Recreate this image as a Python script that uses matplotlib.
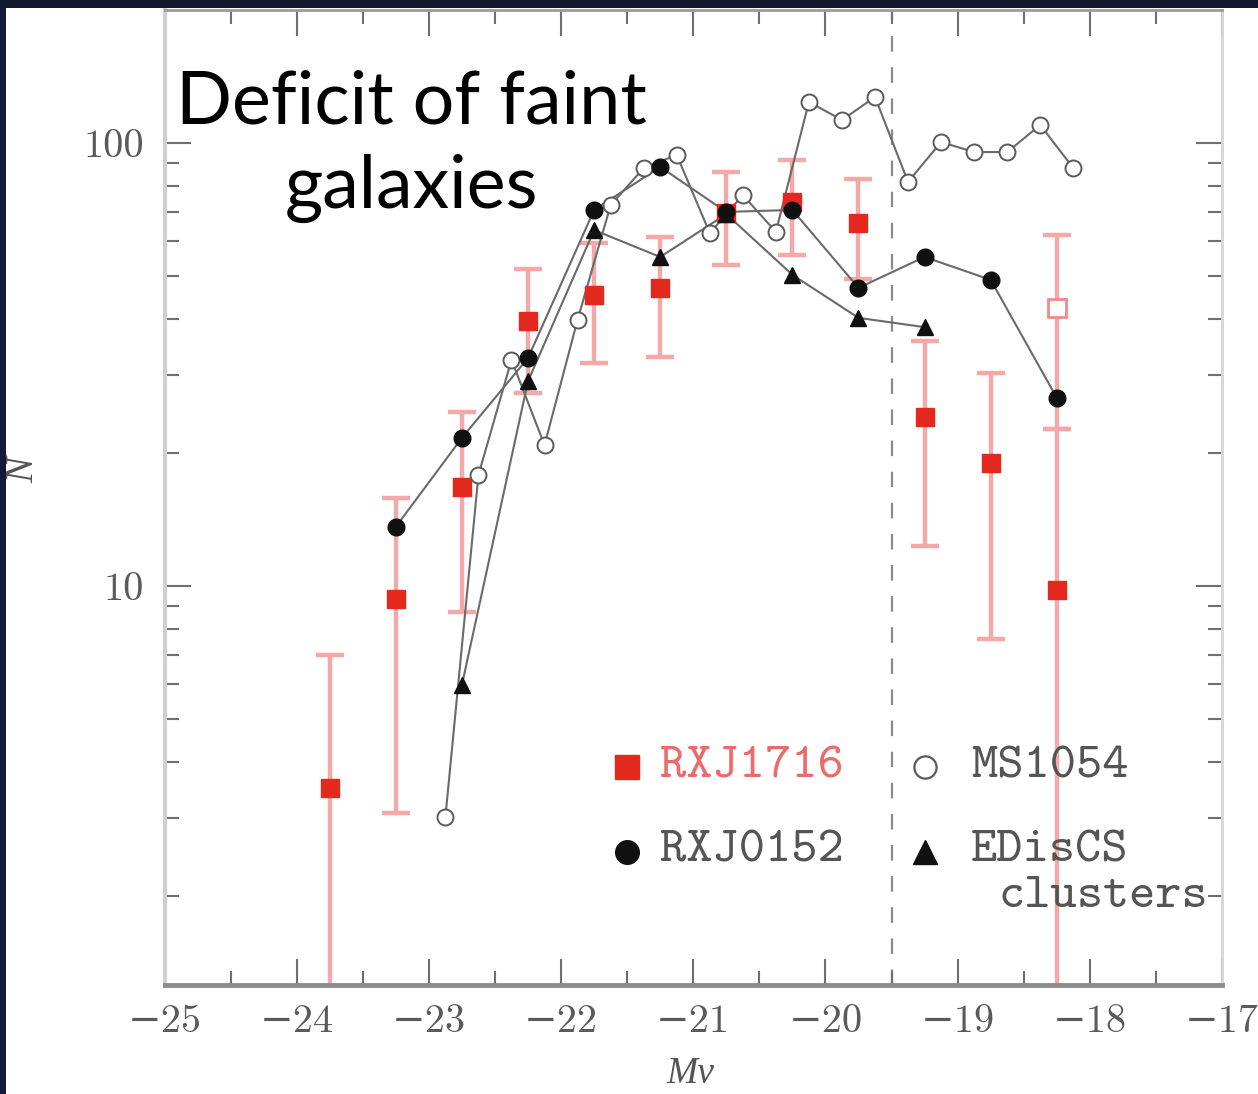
import numpy as np
import matplotlib
matplotlib.use("Agg")
import matplotlib.pyplot as plt
from matplotlib.patches import Rectangle
from matplotlib.ticker import FixedLocator, NullFormatter, LogLocator

# ---------------- data ----------------
# RXJ1716 (red squares with error bars)
rxj1716_mv = [-23.75, -23.25, -22.75, -22.25, -21.75, -21.25, -20.75, -20.25, -19.75, -19.25, -18.75, -18.25]
rxj1716_n = [3.50, 9.35, 16.7, 39.6, 45.4, 47.1, 69.5, 73.6, 66.0, 24.1, 19.0, 9.8]
rxj1716_hi = [6.98, 15.8, 24.7, 51.9, 59.5, 61.3, 86.0, 91.5, 82.9, 35.7, 30.3, 22.6]
rxj1716_lo = [0.5, 3.07, 8.74, 27.3, 31.9, 32.9, 53.0, 55.9, 49.3, 12.3, 7.59, 0.5]
# RXJ1716 open square (last bin, alternative estimate)
rxj1716_open_mv = [-18.25]
rxj1716_open_n = [42.4]
rxj1716_open_hi = [62.0]
rxj1716_open_lo = [22.6]

# RXJ0152 (black filled circles)
rxj0152_mv = [-23.25, -22.75, -22.25, -21.75, -21.25, -20.75, -20.25, -19.75, -19.25, -18.75, -18.25]
rxj0152_n = [13.6, 21.6, 32.7, 70.6, 88.3, 69.9, 70.6, 47.1, 55.3, 49.1, 26.6]

# EDisCS clusters (black triangles)
ediscs_mv = [-22.75, -22.25, -21.75, -21.25, -20.75, -20.25, -19.75, -19.25]
ediscs_n = [5.98, 29.0, 63.6, 55.3, 69.1, 50.4, 40.3, 38.4]

# MS1054 (open circles)
ms1054_mv = [-22.875, -22.625, -22.375, -22.125, -21.875, -21.625, -21.375, -21.125, -20.875, -20.625,
             -20.375, -20.125, -19.875, -19.625, -19.375, -19.125, -18.875, -18.625, -18.375, -18.125]
ms1054_n = [3.01, 17.8, 32.4, 20.8, 39.9, 72.4, 87.8, 94.0, 62.6, 76.3,
            63.0, 123.8, 112.7, 127.0, 81.7, 100.5, 95.4, 95.4, 109.8, 87.8]

x_ticks = [-25, -24, -23, -22, -21, -20, -19, -18, -17]
x_ticklabels = ["\u221225", "\u221224", "\u221223", "\u221222", "\u221221", "\u221220", "\u221219", "\u221218", "\u221217"]
y_ticks = [10, 100]
y_ticklabels = ["10", "100"]
limit_mv = -19.5

# ---------------- figure ----------------
W, H = 1258, 1094
fig = plt.figure(figsize=(W / 100, H / 100), dpi=100, facecolor="#111a2c")
fig.patches.append(Rectangle((6 / W, 0), 1 - 6 / W, 1 - 8 / H, transform=fig.transFigure,
                             facecolor="white", edgecolor="none", zorder=-10))

ax_left, ax_right = 164.5 / W, 1222 / W
ax_bot, ax_top = (H - 985) / H, (H - 10) / H
ax = fig.add_axes([ax_left, ax_bot, ax_right - ax_left, ax_top - ax_bot])
ax.set_facecolor("white")
ax.set_yscale("log")
ax.set_xlim(-25, -17)
ax.set_ylim(10 ** (1 - 399 / 443), 10 ** (2 + 133 / 443))

# error bars
err_col = "#f4a8a8"
n = np.array(rxj1716_n)
ax.errorbar(rxj1716_mv, rxj1716_n, yerr=[n - np.array(rxj1716_lo), np.array(rxj1716_hi) - n],
            fmt="none", ecolor=err_col, elinewidth=3.2, capsize=10, capthick=3.2, zorder=1)
no = np.array(rxj1716_open_n)
ax.errorbar(rxj1716_open_mv, rxj1716_open_n,
            yerr=[no - np.array(rxj1716_open_lo), np.array(rxj1716_open_hi) - no],
            fmt="none", ecolor=err_col, elinewidth=3.2, capsize=10, capthick=3.2, zorder=1)

# red squares
ax.plot(rxj1716_mv, rxj1716_n, ls="none", marker="s", ms=13, mfc="#e3281e", mec="#e3281e", zorder=3)
ax.plot(rxj1716_open_mv, rxj1716_open_n, ls="none", marker="s", ms=13, mfc="white", mec="#f08a8a",
        mew=2.0, zorder=3)

line_col = "#6a6a6a"
# MS1054
ax.plot(ms1054_mv, ms1054_n, color=line_col, lw=1.5, zorder=2)
ax.plot(ms1054_mv, ms1054_n, ls="none", marker="o", ms=11.5, mfc="white", mec="#5a5a5a", mew=1.4, zorder=4)
# RXJ0152
ax.plot(rxj0152_mv, rxj0152_n, color=line_col, lw=1.5, zorder=2)
ax.plot(rxj0152_mv, rxj0152_n, ls="none", marker="o", ms=12, mfc="#111111", mec="#111111", zorder=5)
# EDisCS
ax.plot(ediscs_mv, ediscs_n, color=line_col, lw=1.5, zorder=2)
ax.plot(ediscs_mv, ediscs_n, ls="none", marker="^", ms=11, mfc="#111111", mec="#111111", zorder=5)

# dashed completeness limit
ax.axvline(limit_mv, color="#8a8a8a", lw=1.6, ls=(0, (7, 7)), zorder=1.5)

# ---------------- axes styling ----------------
tick_font = dict(family=["cmr10", "DejaVu Serif"], size=29, color="#5a5a5a")
ax.xaxis.set_major_locator(FixedLocator(x_ticks))
ax.xaxis.set_minor_locator(FixedLocator([v + 0.5 for v in x_ticks[:-1]]))
ax.set_xticklabels(x_ticklabels, **tick_font)
ax.yaxis.set_major_locator(FixedLocator(y_ticks))
ax.yaxis.set_minor_locator(LogLocator(base=10, subs=np.arange(2, 10)))
ax.yaxis.set_minor_formatter(NullFormatter())
ax.set_yticklabels(y_ticklabels, **tick_font)

ax.tick_params(which="both", direction="in", top=True, right=True, color="#6f6f6f", width=1.5)
ax.tick_params(which="major", length=19)
ax.tick_params(which="minor", length=10)
ax.tick_params(axis="x", which="major", pad=14)
ax.tick_params(axis="y", which="major", pad=15)

ax.spines["bottom"].set_color("#8c8c8c")
ax.spines["bottom"].set_linewidth(3.5)
ax.spines["left"].set_color("#cfcfcf")
ax.spines["left"].set_linewidth(3)
ax.spines["right"].set_color("#d5d5d5")
ax.spines["right"].set_linewidth(2)
ax.spines["top"].set_color("#9a9a9a")
ax.spines["top"].set_linewidth(2)

# axis labels
fig.text(690 / W, 1 - 1083 / H, "Mv", ha="center", va="baseline", style="italic",
         family=["Liberation Serif", "DejaVu Serif"], size=27, color="#555555")
fig.text(24 / W, 1 - 470 / H, "N", ha="center", va="center", rotation=90, style="italic",
         family=["Liberation Serif", "DejaVu Serif"], size=28, color="#555555")

# ---------------- legend (manual) ----------------
leg_font = dict(family=["cmtt10", "DejaVu Sans Mono"], size=36, va="center")
y_row1, y_row2, y_row3 = 10 ** (1 - 181 / 443), 10 ** (1 - 266 / 443), 10 ** (1 - 311 / 443)
ax.plot([-21.50], [y_row1], marker="s", ms=17, mfc="#e3281e", mec="#e3281e", ls="none", zorder=5)
ax.text(-21.25, y_row1, "RXJ1716", color="#ee6a6a", **leg_font)
ax.plot([-21.50], [y_row2], marker="o", ms=17, mfc="#111111", mec="#111111", ls="none", zorder=5)
ax.text(-21.25, y_row2, "RXJ0152", color="#555555", **leg_font)
ax.plot([-19.25], [y_row1], marker="o", ms=16, mfc="white", mec="#5a5a5a", mew=1.6, ls="none", zorder=5)
ax.text(-18.90, y_row1, "MS1054", color="#555555", **leg_font)
ax.plot([-19.25], [y_row2], marker="^", ms=17, mfc="#111111", mec="#111111", ls="none", zorder=5)
ax.text(-18.90, y_row2, "EDisCS", color="#555555", **leg_font)
ax.text(-18.69, y_row3, "clusters", color="#555555", **leg_font)

# ---------------- annotation ----------------
fig.text(411 / W, 1 - 146 / H, "Deficit of faint\ngalaxies", ha="center", va="center",
         multialignment="center", family=["Lato", "DejaVu Sans"], size=53, color="black",
         linespacing=1.33, zorder=20)

# dark frame strips over everything
fig.patches.append(Rectangle((0, 0), 6 / W, 1, transform=fig.transFigure, facecolor="#15183a",
                             edgecolor="none", zorder=100))
fig.patches.append(Rectangle((0, 1 - 8 / H), 1, 8 / H, transform=fig.transFigure, facecolor="#111a2c",
                             edgecolor="none", zorder=100))

fig.savefig("out.png", dpi=100, facecolor=fig.get_facecolor())
